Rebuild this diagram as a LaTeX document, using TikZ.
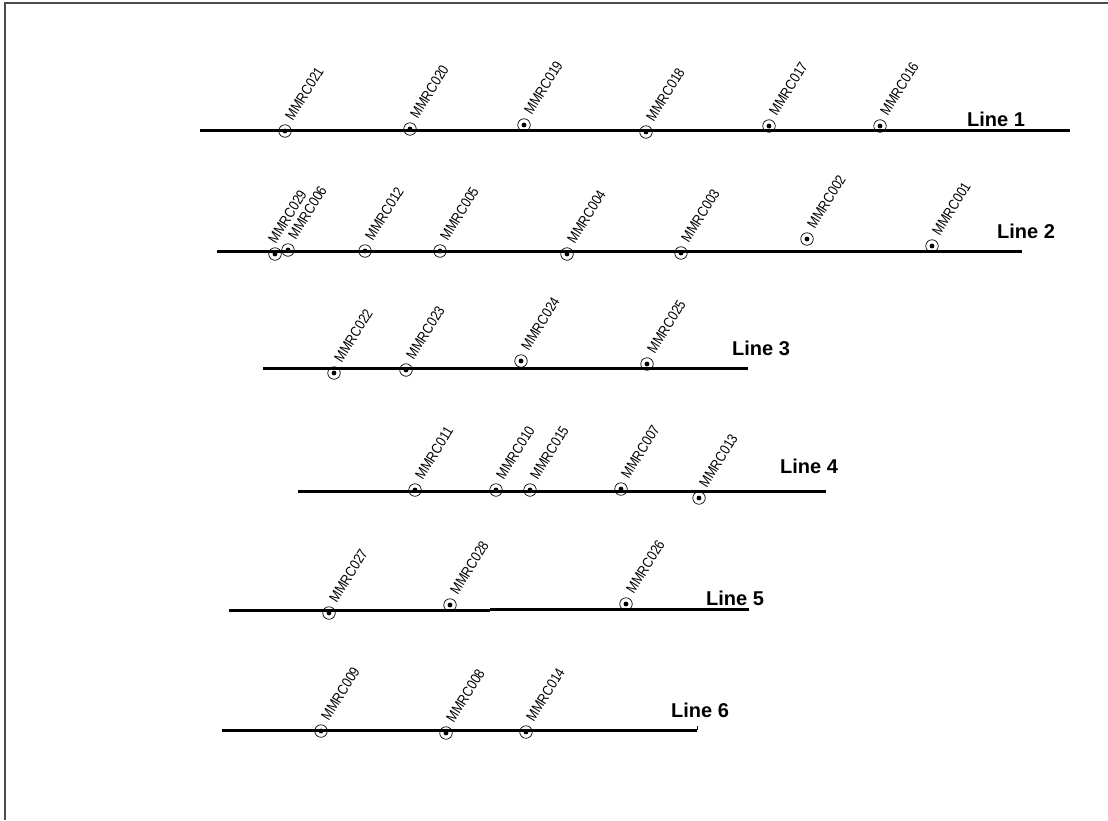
\documentclass[tikz,border=0pt]{standalone}
\usepackage{fontspec}
\setmainfont{Liberation Sans}
\newfontfamily\tagfont[FakeStretch=0.86]{Liberation Sans}
\usetikzlibrary{calc}

\tikzset{
  track/.style={line width=3pt, black},
  well/.style={circle, draw, line width=0.7pt, minimum size=12.5pt, inner sep=0pt,
    path picture={\fill (path picture bounding box.center) circle (2.4pt);}},
  tag/.style={anchor=south west, rotate=58, inner sep=0pt, font=\tagfont\fontsize{14.5}{15}\selectfont},
  linetag/.style={font=\fontsize{20}{22}\selectfont\bfseries, inner sep=0pt}
}

\begin{document}
\begin{tikzpicture}[x=1pt, y=-1pt]
    \useasboundingbox (0,0) rectangle (1108,820);
    % Rėmelis
    \draw[line width=1.5pt, black!70] (5,820) -- (5,3) -- (1108,3);

    % Linijos
    \coordinate (a1) at (200,130); \coordinate (b1) at (1070,130);
    \coordinate (a2) at (217,251); \coordinate (b2) at (1022,251);
    \coordinate (a3) at (263,368); \coordinate (b3) at (748,368);
    \coordinate (a4) at (298,491); \coordinate (b4) at (826,491);
    \coordinate (a5) at (229,610); \coordinate (k5) at (490,610);
    \coordinate (c5) at (490,609); \coordinate (b5) at (749,609);
    \coordinate (a6) at (222,730); \coordinate (b6) at (697,730);
    \draw[track] (a1) -- (b1);
    \draw[track] (a2) -- (b2);
    \draw[track] (a3) -- (b3);
    \draw[track] (a4) -- (b4);
    \draw[track] (a5) -- (k5);
    \draw[track] (c5) -- (b5);
    \draw[track] (a6) -- (b6);
    \draw[line width=1pt] (b6) -- ++(0,-4);

    \node[linetag] (L1) at (996,119) {Line 1};
    \node[linetag] (L2) at (1026,231) {Line 2};
    \node[linetag] (L3) at (761,348) {Line 3};
    \node[linetag] (L4) at (809,466) {Line 4};
    \node[linetag] (L5) at (735,598) {Line 5};
    \node[linetag] (L6) at (700,710) {Line 6};

    % Gręžiniai
    \foreach \n/\x/\y/\dx in {021/285/131/8, 020/410/129/8, 019/524/125/8,
        018/646/132/8, 017/769/126/8, 016/880/126/8,
        029/275/254/1, 006/288/250/8, 012/365/251/8, 005/440/251/8,
        004/567/254/8, 003/681/253/8, 002/807/239/8, 001/932/246/8,
        022/334/373/8, 023/406/370/8, 024/521/361/8, 025/647/364/8,
        011/415/490/8, 010/496/490/8, 015/530/490/8, 007/621/489/8, 013/699/498/8,
        027/329/613/8, 028/450/605/8, 026/626/604/8,
        009/321/731/8, 008/446/733/8, 014/526/732/8} {
        \node[well] (m\n) at (\x,\y) {};
        \node[tag] (t\n) at ([shift={(\dx,-9)}]m\n.center) {MMRC\n};
    }
\end{tikzpicture}
\end{document}
